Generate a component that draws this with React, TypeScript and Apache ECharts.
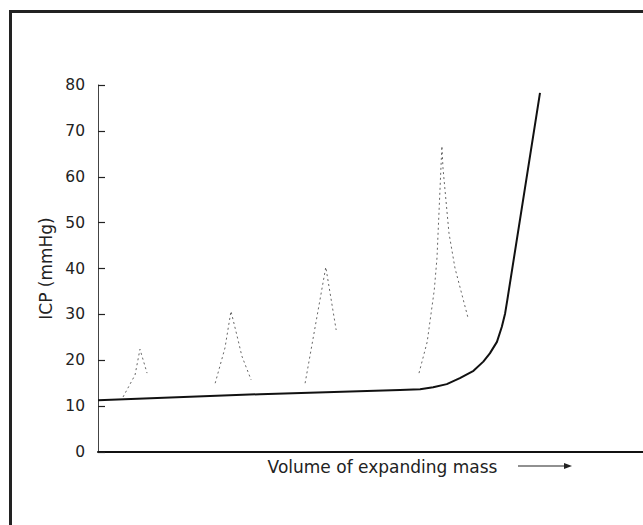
import React, { useEffect, useRef } from "react";
import * as echarts from "echarts";

// Main pressure–volume curve (volume in arbitrary units 0–100, ICP in mmHg)
const volume = [0, 29.7, 55.4, 59.1, 61.5, 64.0, 66.4, 68.9, 70.7, 71.9, 73.2, 74.1, 74.7, 75.1, 81.1];
const icp = [11.3, 12.6, 13.5, 13.7, 14.1, 14.8, 16.1, 17.7, 19.7, 21.5, 24.0, 27.3, 30.2, 33.1, 78.3];

// Faint pressure waves
const wave1V = [4.6, 6.8, 7.7, 9.0];
const wave1P = [12.0, 16.8, 22.4, 17.2];
const wave2V = [21.5, 23.3, 24.4, 25.7, 26.4, 28.1];
const wave2P = [15.0, 22.7, 30.7, 24.4, 20.9, 15.7];
const wave3V = [38.0, 41.8, 43.7];
const wave3P = [15.0, 40.3, 26.6];
const wave4V = [58.9, 60.4, 61.7, 62.2, 63.1, 63.3, 64.4, 65.5, 66.8, 67.9];
const wave4P = [17.2, 24.0, 35.3, 42.3, 66.7, 61.9, 47.7, 40.1, 34.2, 29.2];

const yTicks = [0, 80, 10]; // min, max, interval
const xLabel = "Volume of expanding mass";
const yLabel = "ICP (mmHg)";

const zip = (a: number[], b: number[]) => a.map((v, i) => [v, b[i]]);

const FONT = "DejaVu Sans";

export default function App() {
  const ref = useRef<HTMLDivElement>(null);
  useEffect(() => {
    document.body.style.margin = "0";
    if (!ref.current) return;
    const chart = echarts.init(ref.current, undefined, { renderer: "svg" });
    const waveStyle = { color: "#666", width: 1, type: [2, 3] as any };
    const waves = [zip(wave1V, wave1P), zip(wave2V, wave2P), zip(wave3V, wave3P), zip(wave4V, wave4P)];
    chart.setOption({
      animation: false,
      backgroundColor: "#fff",
      grid: { left: 98, top: 85, bottom: 73, right: 0, containLabel: false },
      xAxis: {
        type: "value",
        min: 0,
        max: 100,
        name: xLabel,
        nameLocation: "middle",
        nameGap: 6,
        nameTextStyle: {
          fontFamily: FONT,
          fontSize: 17,
          color: "#222",
          verticalAlign: "top",
          padding: [0, 0, 0, 24],
        },
        axisLine: { show: true, lineStyle: { color: "#111", width: 2 } },
        axisTick: { show: false },
        axisLabel: { show: false },
        splitLine: { show: false },
      },
      yAxis: {
        type: "value",
        min: yTicks[0],
        max: yTicks[1],
        interval: yTicks[2],
        name: yLabel,
        nameLocation: "middle",
        nameRotate: 90,
        nameGap: 42,
        nameTextStyle: { fontFamily: FONT, fontSize: 17, color: "#222" },
        axisLine: { show: true, lineStyle: { color: "#444", width: 1 } },
        axisTick: { show: true, inside: true, length: 7, lineStyle: { color: "#222", width: 1.2 } },
        axisLabel: { fontFamily: FONT, fontSize: 15.5, color: "#222", margin: 13 },
        splitLine: { show: false },
      },
      series: [
        ...waves.map((d) => ({
          type: "line",
          data: d,
          showSymbol: false,
          symbol: "none",
          lineStyle: waveStyle,
          silent: true,
          z: 1,
        })),
        {
          type: "line",
          data: zip(volume, icp),
          smooth: false,
          symbol: "none",
          lineStyle: { color: "#111", width: 2, join: "round" },
          z: 3,
        },
      ],
      graphic: [
        {
          type: "rect",
          shape: { x: 10.5, y: 11.5, width: 700, height: 600 },
          style: { fill: "none", stroke: "#222", lineWidth: 3 },
          silent: true,
        },
        {
          type: "line",
          shape: { x1: 518, y1: 466, x2: 566, y2: 466 },
          style: { stroke: "#222", lineWidth: 1.2 },
        },
        {
          type: "polygon",
          shape: { points: [[564, 463], [572, 466], [564, 469]] },
          style: { fill: "#222" },
        },
      ],
    });
    return () => chart.dispose();
  }, []);
  return <div ref={ref} style={{ width: 643, height: 525 }} />;
}
